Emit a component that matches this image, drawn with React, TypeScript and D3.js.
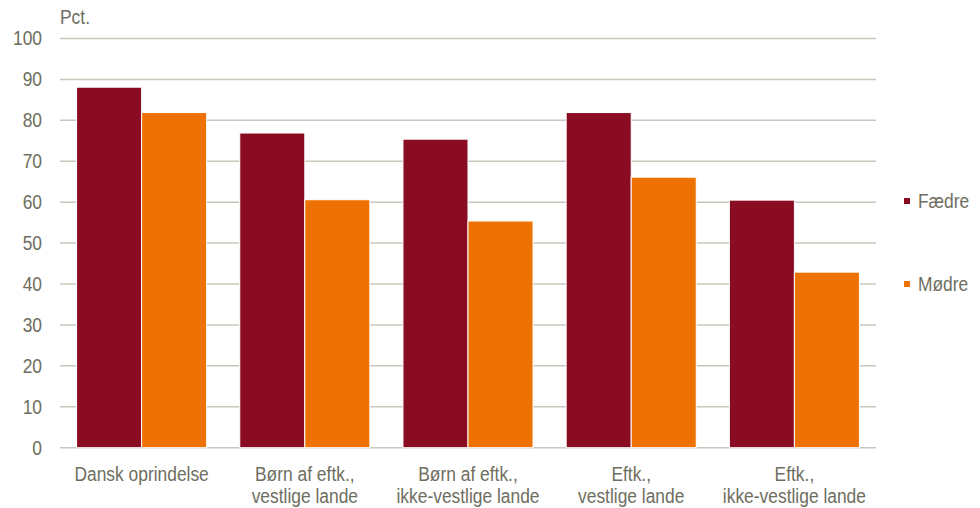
import React from "react";
import * as d3 from "d3";

const categories = [
  ["Dansk oprindelse"],
  ["Børn af eftk.,", "vestlige lande"],
  ["Børn af eftk.,", "ikke-vestlige lande"],
  ["Eftk.,", "vestlige lande"],
  ["Eftk.,", "ikke-vestlige lande"],
];
const seriesNames = ["Fædre", "Mødre"];
const faedre = [88.1, 76.9, 75.4, 81.9, 60.5];
const moedre = [81.9, 60.6, 55.4, 66.1, 42.9];
const yTicks = [0, 10, 20, 30, 40, 50, 60, 70, 80, 90, 100];
const colors = ["#8A0C22", "#EE7203"];

const W = 980;
const H = 508;
const FONT = "'Liberation Sans', Arial, sans-serif";
const TEXT = "#6E6E60";
const GRID = "#C8C8BC";
const SX = 0.87;

function T(props: {
  x: number;
  y: number;
  anchor?: "start" | "middle" | "end";
  baseline?: string;
  children: React.ReactNode;
}) {
  return (
    <text
      transform={`translate(${props.x},${props.y}) scale(${SX},1)`}
      textAnchor={props.anchor || "start"}
      dominantBaseline={props.baseline as any}
      fontSize={20}
    >
      {props.children}
    </text>
  );
}

export default function App() {
  const left = 60, right = 876, top = 38.5, bottom = 447.7;
  const y = d3.scaleLinear().domain([0, 100]).range([bottom, top]);
  const x0 = d3
    .scaleBand<number>()
    .domain(categories.map((_, i) => i))
    .range([left, right])
    .paddingInner(0.203)
    .paddingOuter(0.1015);
  const x1 = d3.scaleBand<number>().domain([0, 1]).range([0, x0.bandwidth()]);
  const series = [faedre, moedre];

  return (
    <svg width={W} height={H} style={{ position: "absolute", left: 0, top: 0, background: "#fff" }}>
      <g fontFamily={FONT} fill={TEXT}>
        {yTicks.map((t) => (
          <g key={t}>
            <line x1={left} x2={right} y1={y(t)} y2={y(t)} stroke={GRID} strokeWidth={1.5} />
            <T x={42} y={y(t)} anchor="end" baseline="central">
              {t}
            </T>
          </g>
        ))}
        <T x={60} y={17} baseline="central">Pct.</T>
        {series.map((vals, s) =>
          vals.map((v, i) => (
            <rect
              key={`${s}-${i}`}
              x={(x0(i) as number) + (x1(s) as number)}
              y={y(v)}
              width={x1.bandwidth()}
              height={y(0) - y(v)}
              fill={colors[s]}
              stroke="#fff"
              strokeWidth={1}
            />
          ))
        )}
        {categories.map((lines, i) =>
          lines.map((l, j) => (
            <T
              key={`${i}-${j}`}
              x={(x0(i) as number) + x0.bandwidth() / 2}
              y={481 + j * 22}
              anchor="middle"
            >
              {l}
            </T>
          ))
        )}
        {seriesNames.map((n, s) => {
          const ly = s === 0 ? 201 : 284;
          return (
            <g key={n}>
              <rect x={904} y={ly - 3} width={6} height={6} fill={colors[s]} />
              <T x={918} y={ly} baseline="central">
                {n}
              </T>
            </g>
          );
        })}
      </g>
    </svg>
  );
}
